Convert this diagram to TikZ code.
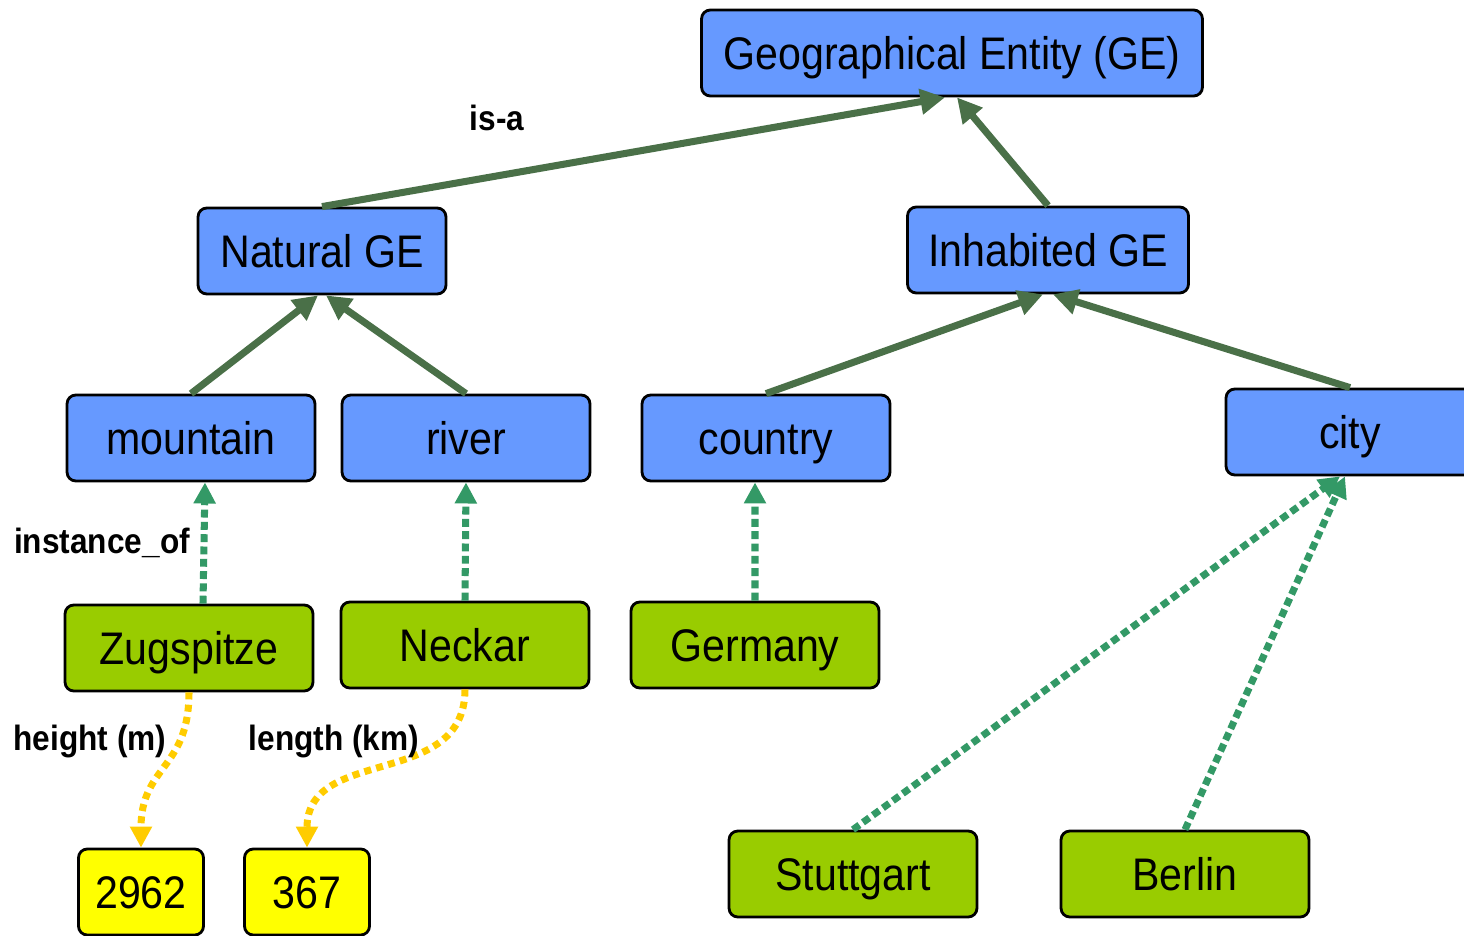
\documentclass[tikz,border=0pt]{standalone}
\usepackage{fontspec}
\setmainfont{Liberation Sans}
\newfontfamily\boxfont[FakeStretch=0.9]{Liberation Sans}
\definecolor{classblue}{RGB}{102,153,255}
\definecolor{instgreen}{RGB}{153,204,0}
\definecolor{valyellow}{RGB}{255,255,0}
\definecolor{isagreen}{RGB}{74,112,72}
\definecolor{instline}{RGB}{51,153,102}
\definecolor{attrline}{RGB}{255,204,0}
\usepackage{tikz}
\usetikzlibrary{arrows.meta,positioning}

\begin{document}
\begin{tikzpicture}[x=0.02cm, y=-0.02cm, every node/.style={align=center}]
          \def\bw{4.96cm}\def\bh{1.72cm}
          \tikzset{
            box/.style={draw=black, line width=1.6pt, rounded corners=5pt, inner sep=0pt,
                        minimum width=\bw, minimum height=\bh, text height=18.6pt, text depth=0pt,
                        font=\boxfont\fontsize{26}{28}\selectfont},
            classbox/.style={box, fill=classblue},
            instbox/.style={box, fill=instgreen},
            valbox/.style={box, fill=valyellow, minimum width=2.5cm},
            isa/.style={-{Triangle[length=14pt,width=14pt]}, isagreen, line width=4pt},
            instof/.style={-{Triangle[length=12pt,width=12pt]}, instline, line width=4pt,
                           dash pattern=on 4.5pt off 2.5pt},
            attr/.style={-{Triangle[length=12pt,width=12pt]}, attrline, line width=4pt,
                         dash pattern=on 4pt off 3pt},
            lbl/.style={font=\boxfont\bfseries\fontsize{20}{22}\selectfont}
          }
          \useasboundingbox (0,0) rectangle (1464,936);
          \node[classbox, minimum width=10.02cm] (ge) at (952,53) {Geographical Entity (GE)};
          \node[classbox, minimum width=5.62cm] (inhabited) at (1048,250) {Inhabited GE};
          \foreach \nm/\x/\y/\lbl in {
            natural/322/251/Natural GE,
            mountain/191/438/mountain,
            river/466/438/river,
            country/766/438/country,
            city/1350/432/city}
          {
            \node[classbox] (\nm) at (\x,\y) {\lbl};
          }
          \foreach \nm/\x/\y/\lbl in {
            zug/189/648/Zugspitze,
            neckar/465/645/Neckar,
            germany/755/645/Germany,
            stuttgart/853/874/Stuttgart,
            berlin/1185/874/Berlin}
          {
            \node[instbox] (\nm) at (\x,\y) {\lbl};
          }
          \node[valbox] (height) at (141,892) {2962};
          \node[valbox] (length) at (307,892) {367};
          \foreach \src/\dst/\sh in {
            natural/ge/-0.14cm, inhabited/ge/0.1cm,
            mountain/natural/-0.08cm, river/natural/0.08cm,
            country/inhabited/-0.1cm, city/inhabited/0.1cm}
            \draw[isa] (\src.north) -- ([xshift=\sh]\dst.south);
          \foreach \src/\ssh/\dst/\dsh in {
            zug/0.28cm/mountain/0.28cm, neckar/0cm/river/0cm,
            germany/0cm/country/-0.22cm,
            stuttgart/0cm/city/-0.2cm, berlin/0cm/city/-0.1cm}
            \draw[instof] ([xshift=\ssh]\src.north) -- ([xshift=\dsh]\dst.south);
          \draw[attr] (zug.south) .. controls (189,770) and (141,765) .. (height.north);
          \draw[attr] (neckar.south) .. controls (465,790) and (307,745) .. (length.north);
          \node[lbl] (isalbl) at (497,118) {is-a};
          \node[lbl] (instlbl) at (102,543) {instance\_of};
          \node[lbl] (heightlbl) at (90,741) {height (m)};
          \node[lbl] (lengthlbl) at (334,741) {length (km)};
        \end{tikzpicture}
\end{document}
